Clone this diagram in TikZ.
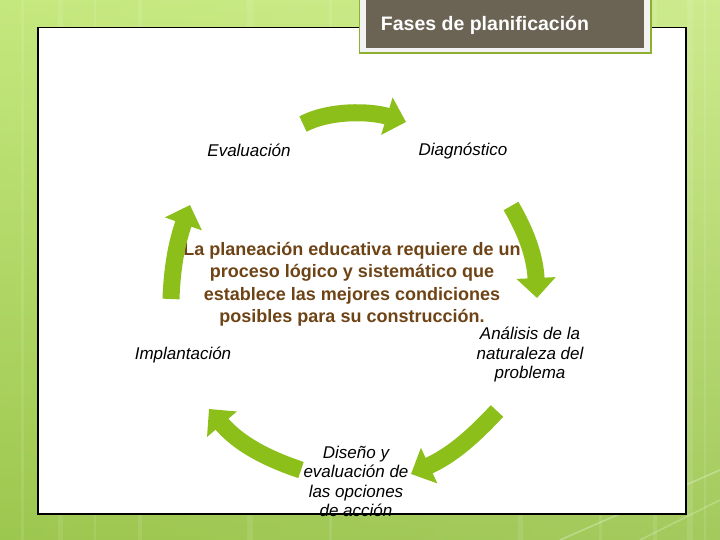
\documentclass[tikz,border=0pt]{standalone}
\usepackage{fontspec}
\setmainfont{Liberation Sans}
\usetikzlibrary{arrows.meta}
\definecolor{arrowgreen}{HTML}{8DBF1A}
\definecolor{titlebg}{HTML}{6B6354}
\definecolor{centerbrown}{HTML}{6E4416}
\definecolor{bgleft}{HTML}{B4E25A}
\definecolor{bgright}{HTML}{CDEB8E}
\definecolor{bgbottom}{HTML}{93BC4A}
\definecolor{frameline}{HTML}{8DB030}
\tikzset{
  lbl/.style={font=\fontsize{17}{19.5}\selectfont\itshape, align=center, text=black, inner sep=0pt},
  centertxt/.style={font=\fontsize{18}{22.5}\selectfont\bfseries, align=center, text=centerbrown, inner sep=0pt},
  bigarrow/.style={draw=arrowgreen, line width=17pt, line cap=butt,
    -{Triangle[width=38pt,length=20pt]}},
  stripe/.style={draw=white, opacity=0.1, line width=#1},
}
\begin{document}
\begin{tikzpicture}[x=1pt,y=-1pt]
\useasboundingbox (0,0) rectangle (720,540);
% background
\shade[left color=bgleft, right color=bgright] (0,0) rectangle (720,540);
\shade[top color=bgright, bottom color=bgbottom, opacity=0.7] (0,0) rectangle (720,540);
\foreach \xx/\ww in {22/3, 60/5, 95/2, 140/4, 250/6, 330/3, 520/5, 600/3, 655/4, 690/6, 705/2}
  \draw[stripe=\ww] (\xx,0) -- (\xx,540);
\draw[stripe=1.5, opacity=0.3] (560,540) -- (720,470);
\draw[stripe=1.5, opacity=0.25] (640,540) -- (720,500);
% white panel
\node[draw=black, line width=1.5pt, fill=white, minimum width=648pt, minimum height=486pt,
  inner sep=0pt, anchor=north west] (panel) at (37,27) {};
% title box
\fill[frameline] (359,0) rectangle (652,54);
\fill[white!95!black] (360,0) rectangle (650,52);
\node[fill=titlebg, minimum width=278pt, minimum height=48pt, inner sep=0pt, anchor=north west] (titlebox) at (366,0) {};
\node[text=white, font=\fontsize{19.5}{22}\selectfont\bfseries, inner sep=0pt] (title) at (485,25) {Fases de planificaci\'on};
% labels
\node[lbl] (eval) at (249,150) {Evaluación};
\node[lbl] (diag) at (463,151) {Diagnóstico};
\node[lbl] (impl) at (183,355) {Implantación};
\node[lbl] (anal) at (530,355) {Análisis de la\\naturaleza del\\problema};
\node[lbl] (dise) at (356,481.5) {Diseño y\\evaluación de\\las opciones\\de acción};
\node[centertxt] (center) at (352,284.5) {La planeación educativa requiere de un\\proceso lógico y sistemático que\\establece las mejores condiciones\\posibles para su construcción.};
% arrows
\coordinate (a1s) at (303,124); \coordinate (a1e) at (406,122);
\coordinate (a2s) at (511,206); \coordinate (a2e) at (537,298);
\coordinate (a3s) at (497,411); \coordinate (a3e) at (411,474);
\coordinate (a4s) at (301,470); \coordinate (a4e) at (209,409);
\coordinate (a5s) at (171,299); \coordinate (a5e) at (190,205);
\draw[bigarrow] (a1s) .. controls (330,110) and (370,111) .. (a1e);
\draw[bigarrow] (a2s) .. controls (525,230) and (535,255) .. (a2e);
\draw[bigarrow] (a3s) .. controls (470,440) and (450,456) .. (a3e);
\draw[bigarrow] (a4s) .. controls (265,458) and (238,443) .. (a4e);
\draw[bigarrow] (a5s) .. controls (172,270) and (176,245) .. (a5e);
\end{tikzpicture}
\end{document}
